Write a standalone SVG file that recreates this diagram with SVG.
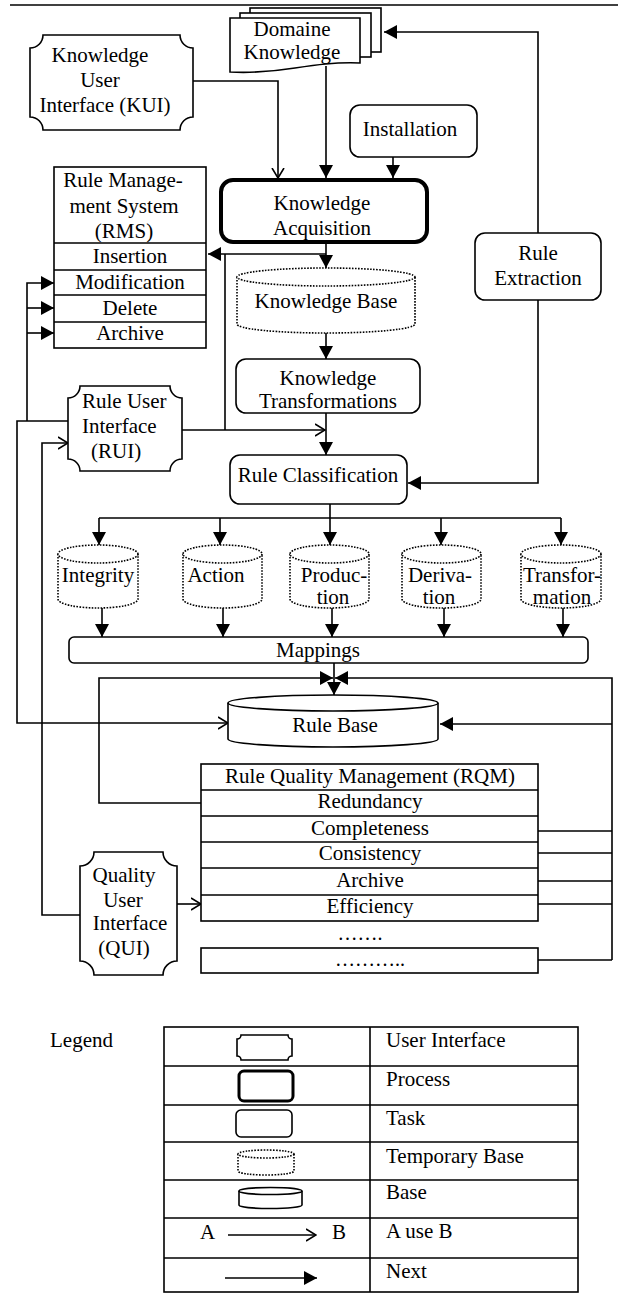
<svg xmlns="http://www.w3.org/2000/svg" width="621" height="1294" viewBox="0 0 621 1294" font-family="Liberation Serif, Times New Roman, serif">
<style>
text{font-family:"Liberation Serif","Times New Roman",serif;font-size:21px;fill:#000}
.c{text-anchor:middle}
.sh{fill:#fff;stroke:#000;stroke-width:1.6}
.thick{fill:#fff;stroke:#000;stroke-width:4}
.dot{fill:#fff;stroke:#000;stroke-width:1.6;stroke-dasharray:1.6 1.4}
.ln{fill:none;stroke:#000;stroke-width:1.6}
.el{font-size:20px}
</style>
<defs>
<marker id="fa" viewBox="0 0 13 14" refX="13" refY="7" markerWidth="13" markerHeight="14" markerUnits="userSpaceOnUse" orient="auto"><path d="M0,0 L13,7 L0,14 z" fill="#000"/></marker>
<marker id="oa" viewBox="0 0 11 14" refX="10" refY="7" markerWidth="11" markerHeight="14" markerUnits="userSpaceOnUse" orient="auto"><path d="M0,1 L10,7 L0,13" fill="none" stroke="#000" stroke-width="1.6"/></marker>
</defs>
<rect width="621" height="1294" fill="#fff"/>
<line x1="10" y1="5" x2="618" y2="5" stroke="#000" stroke-width="1.6"/>

<g id="connectors" class="ln">
<path d="M193,81 H278 V178" marker-end="url(#oa)"/>
<path d="M326,66 V178" marker-end="url(#fa)"/>
<path d="M393,157 V178" marker-end="url(#fa)"/>
<path d="M326,243 V268" marker-end="url(#fa)"/>
<path d="M326,254 H208" marker-end="url(#fa)"/>
<path d="M225,254 V430"/>
<path d="M182,430 H325" marker-end="url(#oa)"/>
<path d="M326,333 V359" marker-end="url(#fa)"/>
<path d="M326,413 V455" marker-end="url(#fa)"/>
<path d="M538,233 V32 H384" marker-end="url(#fa)"/>
<path d="M538,300 V483 H408" marker-end="url(#fa)"/>
<path d="M330,504 V545" marker-end="url(#fa)"/>
<path d="M99,518 H561"/>
<path d="M99,518 V545" marker-end="url(#fa)"/>
<path d="M220,518 V545" marker-end="url(#fa)"/>
<path d="M441,518 V545" marker-end="url(#fa)"/>
<path d="M561,518 V545" marker-end="url(#fa)"/>
<path d="M102,608 V637" marker-end="url(#fa)"/>
<path d="M223,608 V637" marker-end="url(#fa)"/>
<path d="M332,608 V637" marker-end="url(#fa)"/>
<path d="M444,608 V637" marker-end="url(#fa)"/>
<path d="M563,608 V637" marker-end="url(#fa)"/>
<path d="M334,663 V695" marker-end="url(#fa)"/>
<path d="M201,803 H99 V678 H333" marker-end="url(#fa)"/>
<path d="M612,960 V678 H335" marker-end="url(#fa)"/>
<path d="M612,724 H440" marker-end="url(#fa)"/>
<path d="M538,831 H612 M538,853 H612 M538,881 H612 M538,904 H612 M538,960 H612"/>
<path d="M68,421 H17 V723 H228" marker-end="url(#oa)"/>
<path d="M27,421 V283 H54" marker-end="url(#fa)"/>
<path d="M27,308 H54" marker-end="url(#fa)"/>
<path d="M27,333 H54" marker-end="url(#fa)"/>
<path d="M80,915 H42 V443 H68" marker-end="url(#oa)"/>
<path d="M177,904 H201" marker-end="url(#oa)"/>
</g>

<g id="domain-knowledge">
<rect class="sh" x="250" y="8" width="131" height="44"/>
<rect class="sh" x="240" y="13" width="131" height="44"/>
<path class="sh" d="M230,18 H360 V63 C335,62 315,65 295,68 C270,72 250,73 230,72 Z"/>
<text class="c" x="292" y="36">Domaine</text>
<text class="c" x="292" y="59">Knowledge</text>
</g>

<g id="kui">
<path class="sh" d="M43,35 H180 A13 13 0 0 0 193,48 V117 A13 13 0 0 0 180,130 H43 A13 13 0 0 0 30,117 V48 A13 13 0 0 0 43,35 Z"/>
<text class="c" x="100" y="62">Knowledge</text>
<text class="c" x="100" y="87">User</text>
<text class="c" x="105" y="112">Interface (KUI)</text>
</g>

<g id="installation">
<rect class="sh" x="350" y="105" width="127" height="52" rx="10"/>
<text class="c" x="410" y="136">Installation</text>
</g>

<g id="knowledge-acquisition">
<rect class="thick" x="221" y="180" width="206" height="62" rx="12"/>
<text class="c" x="322" y="210">Knowledge</text>
<text class="c" x="322" y="235">Acquisition</text>
</g>

<g id="rule-extraction">
<rect class="sh" x="475" y="233" width="126" height="67" rx="10"/>
<text class="c" x="538" y="260">Rule</text>
<text class="c" x="538" y="285">Extraction</text>
</g>

<g id="rms">
<rect class="sh" x="54" y="167" width="152" height="181"/>
<path class="ln" d="M54,243 H206 M54,270 H206 M54,295 H206 M54,322 H206"/>
<text class="c" x="123" y="187">Rule Manage-</text>
<text class="c" x="124" y="213">ment System</text>
<text class="c" x="124" y="238">(RMS)</text>
<text class="c" x="130" y="263">Insertion</text>
<text class="c" x="130" y="289">Modification</text>
<text class="c" x="130" y="315">Delete</text>
<text class="c" x="130" y="340">Archive</text>
</g>

<g id="knowledge-base">
<path class="dot" d="M237,277 V324 A89 9 0 0 0 415,324 V277"/>
<ellipse class="dot" cx="326" cy="277" rx="89" ry="9"/>
<text class="c" x="326" y="308">Knowledge Base</text>
</g>

<g id="knowledge-transformations">
<rect class="sh" x="236" y="359" width="184" height="54" rx="10"/>
<text class="c" x="328" y="385">Knowledge</text>
<text class="c" x="328" y="408">Transformations</text>
</g>

<g id="rui">
<path class="sh" d="M80,386 H170 A12 12 0 0 0 182,398 V459 A12 12 0 0 0 170,471 H80 A12 12 0 0 0 68,459 V398 A12 12 0 0 0 80,386 Z"/>
<text x="82" y="408">Rule User</text>
<text x="82" y="433">Interface</text>
<text x="91" y="458">(RUI)</text>
</g>

<g id="rule-classification">
<rect class="sh" x="230" y="455" width="177" height="49" rx="10"/>
<text class="c" x="318" y="482">Rule Classification</text>
</g>

<g id="integrity">
<path class="dot" d="M58,554 V599 A40 9 0 0 0 138,599 V554"/>
<ellipse class="dot" cx="98" cy="554" rx="40" ry="9"/>
<text class="c" x="98" y="582">Integrity</text>
</g>
<g id="action">
<path class="dot" d="M183,554 V599 A39.5 9 0 0 0 262,599 V554"/>
<ellipse class="dot" cx="222.5" cy="554" rx="39.5" ry="9"/>
<text class="c" x="216" y="582">Action</text>
</g>
<g id="production">
<path class="dot" d="M290,554 V599 A39.5 9 0 0 0 369,599 V554"/>
<ellipse class="dot" cx="329.5" cy="554" rx="39.5" ry="9"/>
<text class="c" x="334" y="582">Produc-</text>
<text class="c" x="333" y="604">tion</text>
</g>
<g id="derivation">
<path class="dot" d="M402,554 V599 A39.5 9 0 0 0 481,599 V554"/>
<ellipse class="dot" cx="441.5" cy="554" rx="39.5" ry="9"/>
<text class="c" x="440" y="582">Deriva-</text>
<text class="c" x="439" y="604">tion</text>
</g>
<g id="transformation">
<path class="dot" d="M521,554 V599 A40 9 0 0 0 601,599 V554"/>
<ellipse class="dot" cx="561" cy="554" rx="40" ry="9"/>
<text class="c" x="562" y="582">Transfor-</text>
<text class="c" x="562" y="604">mation</text>
</g>

<g id="mappings">
<rect class="sh" x="69" y="637" width="519" height="26" rx="5"/>
<text class="c" x="318" y="657">Mappings</text>
</g>

<g id="rule-base">
<path class="sh" d="M228,703 V739 A105 8 0 0 0 438,739 V703"/>
<ellipse class="sh" cx="333" cy="703" rx="105" ry="8"/>
<text class="c" x="335" y="732">Rule Base</text>
</g>

<g id="rqm">
<rect class="sh" x="201" y="764" width="337" height="157"/>
<path class="ln" d="M201,790 H538 M201,816 H538 M201,842 H538 M201,868 H538 M201,895 H538"/>
<text class="c" x="370" y="783">Rule Quality Management (RQM)</text>
<text class="c" x="370" y="808">Redundancy</text>
<text class="c" x="370" y="835">Completeness</text>
<text class="c" x="370" y="860">Consistency</text>
<text class="c" x="370" y="887">Archive</text>
<text class="c" x="370" y="913">Efficiency</text>
<text class="c el" x="360" y="940">…….</text>
<rect class="sh" x="201" y="948" width="337" height="25"/>
<text class="c el" x="370" y="966">………..</text>
</g>

<g id="qui">
<path class="sh" d="M94,852 H163 A14 14 0 0 0 177,866 V961 A14 14 0 0 0 163,975 H94 A14 14 0 0 0 80,961 V866 A14 14 0 0 0 94,852 Z"/>
<text class="c" x="124" y="882">Quality</text>
<text class="c" x="123" y="907">User</text>
<text class="c" x="130" y="930">Interface</text>
<text class="c" x="124" y="955">(QUI)</text>
</g>

<g id="legend">
<text x="50" y="1047">Legend</text>
<rect class="sh" x="164" y="1027" width="414" height="265"/>
<path class="ln" d="M370,1027 V1292 M164,1066 H578 M164,1105 H578 M164,1142 H578 M164,1180 H578 M164,1218 H578 M164,1258 H578"/>
<path class="sh" d="M241,1035 H288 A4 4 0 0 0 292,1039 V1056 A4 4 0 0 0 288,1060 H241 A4 4 0 0 0 237,1056 V1039 A4 4 0 0 0 241,1035 Z"/>
<rect x="239" y="1071" width="54" height="30" rx="5" fill="#fff" stroke="#000" stroke-width="3"/>
<rect class="sh" x="236" y="1110" width="56" height="27" rx="5"/>
<path class="dot" d="M238,1154 V1171 A28 4 0 0 0 294,1171 V1154"/>
<ellipse class="dot" cx="266" cy="1154" rx="28" ry="4"/>
<path class="sh" d="M239,1191 V1205 A31.5 3.5 0 0 0 302,1205 V1191"/>
<ellipse class="sh" cx="270.5" cy="1191" rx="31.5" ry="3.5"/>
<text x="200" y="1239">A</text>
<path class="ln" d="M228,1235 H316" marker-end="url(#oa)"/>
<text x="332" y="1239">B</text>
<path class="ln" d="M225,1278 H317" marker-end="url(#fa)"/>
<text x="386" y="1047">User Interface</text>
<text x="386" y="1086">Process</text>
<text x="386" y="1125">Task</text>
<text x="386" y="1163">Temporary Base</text>
<text x="386" y="1199">Base</text>
<text x="386" y="1238">A use B</text>
<text x="386" y="1278">Next</text>
</g>
</svg>
